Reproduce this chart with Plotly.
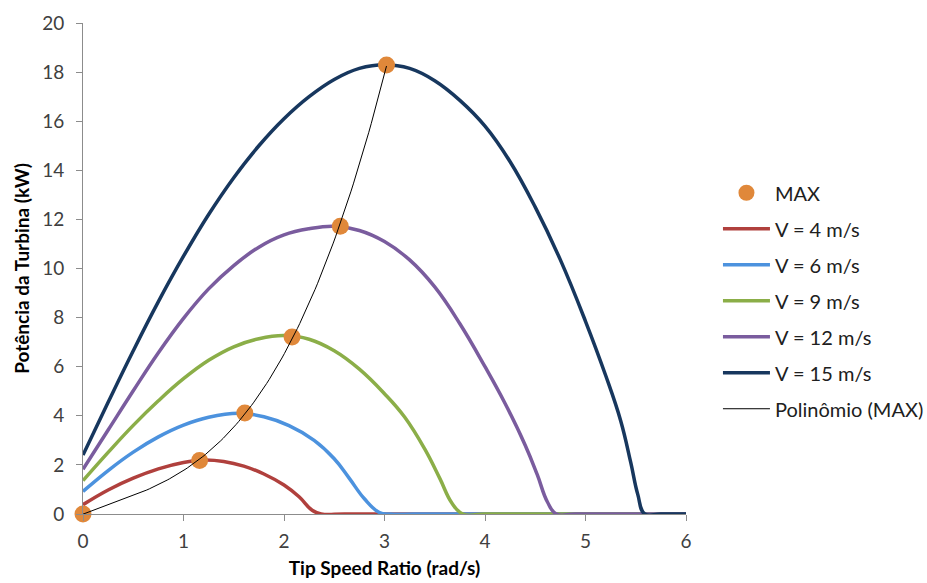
import numpy as np
import plotly.graph_objects as go

# Maximum-power points for each wind speed
max_x = [0.0, 1.16, 1.61, 2.08, 2.56, 3.02]
max_y = [0.0, 2.18, 4.11, 7.21, 11.72, 18.29]

# Turbine power curves (kW) vs tip speed ratio
v4_x = [0, 0.25, 0.5, 0.75, 1.0, 1.2, 1.4, 1.6, 1.8, 2.0, 2.15, 2.28, 2.37, 2.6, 3.0, 4.0, 5.0, 6.0]
v4_y = [0.38, 0.98, 1.46, 1.84, 2.1, 2.2, 2.14, 1.95, 1.63, 1.18, 0.7, 0.15, 0.0, 0.0, 0.0, 0.0, 0.0, 0.0]

v6_x = [0, 0.25, 0.5, 0.75, 1.0, 1.25, 1.55, 1.8, 2.05, 2.3, 2.5, 2.65, 2.8, 2.95, 3.06, 3.3, 4.0, 5.0, 6.0]
v6_y = [0.92, 1.77, 2.52, 3.14, 3.62, 3.94, 4.1, 3.96, 3.6, 3.0, 2.25, 1.45, 0.62, 0.06, 0.0, 0.0, 0.0, 0.0, 0.0]

v9_x = [0, 0.25, 0.5, 0.75, 1.0, 1.25, 1.5, 1.75, 2.0, 2.25, 2.5, 2.75, 3.0, 3.2, 3.4, 3.55, 3.67, 3.78, 4.0, 4.5, 5.0, 6.0]
v9_y = [1.36, 2.51, 3.61, 4.61, 5.51, 6.26, 6.81, 7.14, 7.27, 7.12, 6.65, 5.9, 4.9, 3.95, 2.65, 1.45, 0.45, 0.0, 0.0, 0.0, 0.0, 0.0]

v12_x = [0, 0.25, 0.5, 0.75, 1.0, 1.25, 1.5, 1.75, 2.0, 2.25, 2.5, 2.75, 3.0, 3.25, 3.5, 3.75, 4.0, 4.2, 4.4, 4.52, 4.62, 4.71, 4.9, 5.4, 6.0]
v12_y = [1.82, 3.42, 5.02, 6.57, 7.97, 9.17, 10.12, 10.87, 11.37, 11.62, 11.72, 11.55, 11.1, 10.35, 9.25, 7.75, 6.0, 4.5, 2.8, 1.6, 0.5, 0.0, 0.0, 0.0, 0.0]

v15_x = [0, 0.25, 0.5, 0.75, 1.0, 1.25, 1.5, 1.75, 2.0, 2.25, 2.5, 2.75, 3.0, 3.25, 3.5, 3.75, 4.0, 4.25, 4.5, 4.75, 5.0, 5.2, 5.35, 5.45, 5.52, 5.59, 5.75, 6.0]
v15_y = [2.4, 4.55, 6.65, 8.65, 10.5, 12.2, 13.7, 15.0, 16.1, 17.0, 17.7, 18.15, 18.3, 18.15, 17.65, 16.85, 15.8, 14.35, 12.5, 10.35, 7.85, 5.65, 3.8, 2.1, 0.8, 0.0, 0.0, 0.0]

series = [
    ("V = 4 m/s", v4_x, v4_y, "#B0403D"),
    ("V = 6 m/s", v6_x, v6_y, "#4C92DE"),
    ("V = 9 m/s", v9_x, v9_y, "#8BAE48"),
    ("V = 12 m/s", v12_x, v12_y, "#7A5C9E"),
    ("V = 15 m/s", v15_x, v15_y, "#17375E"),
]

x_ticks = [0, 1, 2, 3, 4, 5, 6]
y_ticks = [0, 2, 4, 6, 8, 10, 12, 14, 16, 18, 20]

FONT = "Lato"
fig = go.Figure()

for i, (name, xs, ys, color) in enumerate(series):
    fig.add_trace(go.Scatter(
        x=xs, y=ys, mode="lines", name=name,
        line=dict(color=color, width=3.5, shape="spline", smoothing=1.2),
        legendgroup=name, legendrank=2 + i,
    ))

# Polynomial trend line through the maximum-power points
coef = np.polyfit(max_x, max_y, 3)
trend_x = np.linspace(min(max_x), max(max_x), 120)
trend_y = np.polyval(coef, trend_x)

fig.add_trace(go.Scatter(
    x=max_x, y=max_y, mode="markers", name="MAX",
    marker=dict(color="#E0883A", size=17, line=dict(width=0)),
    cliponaxis=False, legendgroup="MAX", legendrank=1,
))
fig.add_trace(go.Scatter(
    x=trend_x, y=trend_y, mode="lines", name="Polinômio (MAX)",
    line=dict(color="#000000", width=1),
    legendgroup="poly", legendrank=7,
))

axis_common = dict(
    showgrid=False, zeroline=False, showline=True,
    linecolor="#8C8C8C", linewidth=1,
    ticks="outside", ticklen=6, tickcolor="#8C8C8C",
    tickfont=dict(family=FONT, size=19, color="#404040"),
)

fig.update_layout(
    width=927, height=583,
    margin=dict(l=83, r=241, t=23, b=69, autoexpand=False),
    paper_bgcolor="white", plot_bgcolor="white",
    font=dict(family=FONT),
    showlegend=True,
    legend=dict(
        x=1.053, xanchor="left", y=0.694, yanchor="top",
        font=dict(family=FONT, size=20, color="#202020"),
        itemwidth=47, tracegroupgap=7,
        bgcolor="rgba(0,0,0,0)",
    ),
    xaxis=dict(
        range=[0, 6], tickvals=x_ticks, ticklabelstandoff=4,
        title=dict(text="Tip Speed Ratio (rad/s)", standoff=10,
                   font=dict(family=FONT, size=19, color="#000000", weight="bold")),
        **axis_common,
    ),
    yaxis=dict(
        range=[0, 20], tickvals=y_ticks, ticklabelstandoff=8,
        title=dict(text="Potência da Turbina (kW)", standoff=7,
                   font=dict(family=FONT, size=19, color="#000000", weight="bold")),
        **axis_common,
    ),
)

fig.write_html("out.html")
